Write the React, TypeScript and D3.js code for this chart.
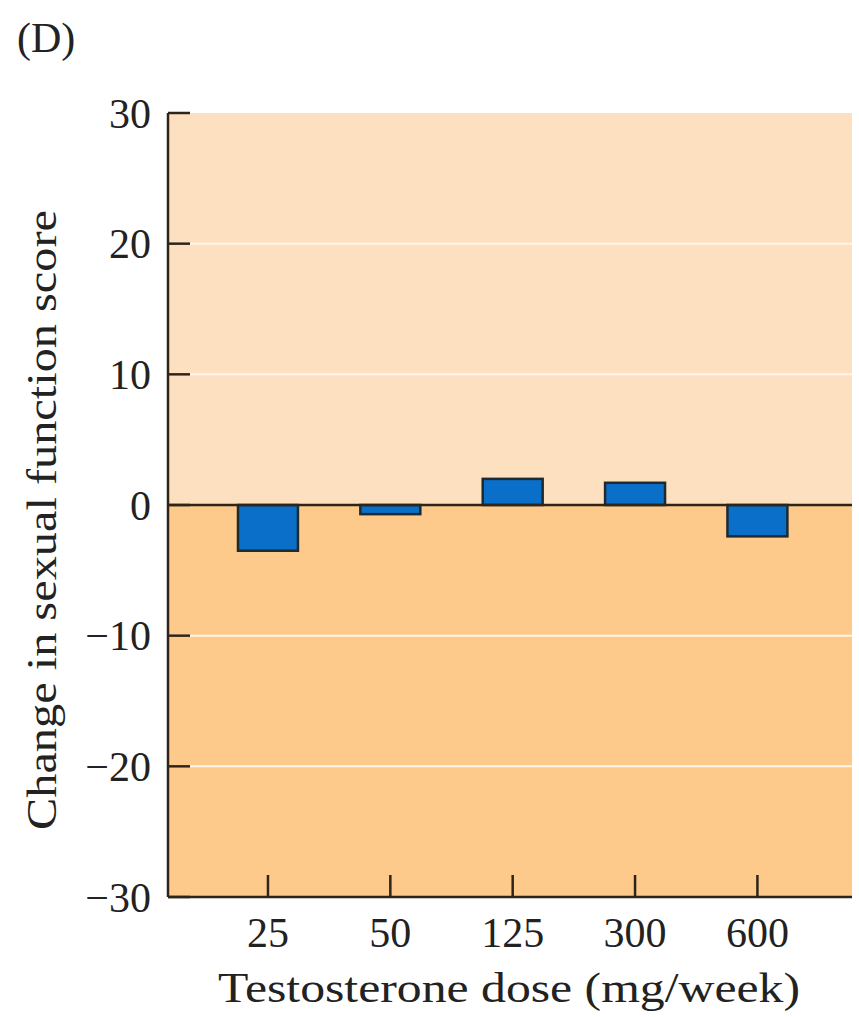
import React from "react";
import * as d3 from "d3";

const doses = ["25", "50", "125", "300", "600"];
const changes = [-3.5, -0.7, 2.0, 1.7, -2.4];
const yTicks = [-30, -20, -10, 0, 10, 20, 30];
const gridValues = [-20, -10, 10, 20];

const W = 859;
const H = 1017;
const M = { left: 168, right: 852, top: 113, bottom: 897 };
const FONT = "'Liberation Serif', 'Times New Roman', serif";

export default function App() {
  const x = d3
    .scaleBand<string>()
    .domain(doses)
    .range([M.left, M.right])
    .paddingInner(0.51)
    .paddingOuter(0.55)
    .align(0.52);
  const y = d3.scaleLinear().domain([-30, 30]).range([M.bottom, M.top]);
  const axisColor = "#2e2418";

  return (
    <svg width={W} height={H} style={{ position: "absolute", left: 0, top: 0 }}>
      <rect x={0} y={0} width={W} height={H} fill="#fff" />
      <text x={17} y={52} fontFamily={FONT} fontSize={42} fill="#222">(D)</text>
      {/* backgrounds */}
      <rect x={M.left} y={y(30)} width={M.right - M.left} height={y(0) - y(30)} fill="#fde0bf" />
      <rect x={M.left} y={y(0)} width={M.right - M.left} height={y(-30) - y(0)} fill="#fdca8b" />
      {gridValues.map((v) => (
        <line key={v} x1={M.left} x2={M.right} y1={y(v)} y2={y(v)} stroke="#fff6ea" strokeWidth={2} />
      ))}
      {/* bars */}
      {doses.map((d, i) => {
        const v = changes[i];
        const y0 = y(Math.max(0, v));
        const y1 = y(Math.min(0, v));
        return (
          <rect
            key={d}
            x={x(d)}
            y={y0}
            width={x.bandwidth()}
            height={y1 - y0}
            fill="#0a6fc8"
            stroke="#1f2a30"
            strokeWidth={2.5}
          />
        );
      })}
      {/* zero line */}
      <line x1={M.left} x2={M.right} y1={y(0)} y2={y(0)} stroke={axisColor} strokeWidth={2.5} />
      {/* y axis */}
      <line x1={M.left} x2={M.left} y1={M.top} y2={M.bottom} stroke={axisColor} strokeWidth={2.5} />
      {yTicks.map((t) => (
        <g key={t}>
          <line x1={M.left} x2={M.left + 22} y1={y(t)} y2={y(t)} stroke={axisColor} strokeWidth={2.5} />
          <text
            x={151}
            y={y(t)}
            dy="0.35em"
            textAnchor="end"
            fontFamily={FONT}
            fontSize={42}
            fill="#222"
          >
            {t < 0 ? "\u2212" + Math.abs(t) : String(t)}
          </text>
        </g>
      ))}
      {/* x axis */}
      <line x1={M.left} x2={M.right} y1={M.bottom} y2={M.bottom} stroke={axisColor} strokeWidth={2.5} />
      {doses.map((d) => {
        const cx = (x(d) as number) + x.bandwidth() / 2;
        return (
          <g key={d}>
            <line x1={cx} x2={cx} y1={M.bottom} y2={M.bottom - 22} stroke={axisColor} strokeWidth={2.5} />
            <text x={cx} y={947} textAnchor="middle" fontFamily={FONT} fontSize={42} fill="#222">
              {d}
            </text>
          </g>
        );
      })}
      <text
        x={509}
        y={1002}
        textAnchor="middle"
        fontFamily={FONT}
        fontSize={42}
        fill="#222"
        textLength={582}
        lengthAdjust="spacingAndGlyphs"
      >
        Testosterone dose (mg/week)
      </text>
      <text
        transform={`translate(56, 520) rotate(-90)`}
        textAnchor="middle"
        fontFamily={FONT}
        fontSize={42}
        fill="#222"
        textLength={620}
        lengthAdjust="spacingAndGlyphs"
      >
        Change in sexual function score
      </text>
    </svg>
  );
}
